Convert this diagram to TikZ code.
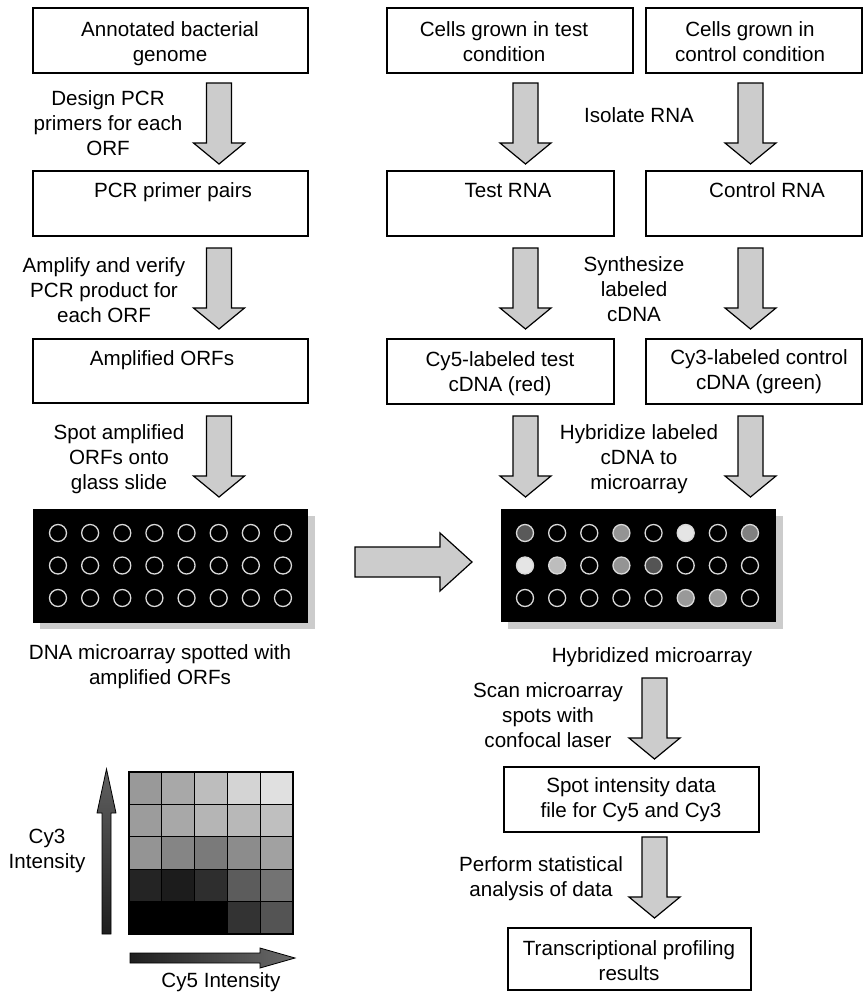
\documentclass[tikz,border=0pt]{standalone}
\usepackage{fontspec}
\setmainfont{Liberation Sans}
\begin{document}
\begin{tikzpicture}[x=1pt,y=-1pt,
  box/.style={draw, line width=1.2pt, inner sep=0pt},
  txt/.style={align=center, anchor=base, inner sep=0pt, font=\fontsize{20.6}{25}\selectfont},
  blk/.style={fill=black!20, draw, line width=1.2pt, line join=miter},
  spot/.style={draw=black!15, line width=1.3pt},
  slide/.style={fill=black, inner sep=0pt},
  shadowbox/.style={fill=black!20},
  cell/.style={draw, line width=1.1pt},
  downblk/.pic={
    \draw[blk] (-12.5,0) -- (12.5,0) -- (12.5,60) -- (25.5,60) -- (0,81)
      -- (-25.5,60) -- (-12.5,60) -- cycle;
  }
]
\useasboundingbox (0,0) rectangle (864,993);

% rectangular step: name, x1, y1, x2, y2
\newcommand\stepframe[5]{%
  \node[box, minimum width={#4-#2}, minimum height={#5-#3}]
    (#1) at ({(#2+#4)/2},{(#3+#5)/2}) {};}

% ---- boxes ----
\stepframe{genome}{33}{8}{308}{73}
\stepframe{primers}{33}{171}{308}{236}
\stepframe{orfs}{33}{339}{308}{403}
\stepframe{testcells}{387}{8}{633}{73}
\stepframe{ctrlcells}{646}{8}{862}{73}
\stepframe{testrna}{387}{171}{614}{236}
\stepframe{ctrlrna}{646}{171}{862}{236}
\stepframe{cyfive}{387}{339}{614}{404}
\stepframe{cythree}{646}{339}{862}{404}
\stepframe{datafile}{504}{767}{759}{832}
\stepframe{results}{508}{928}{751}{990}

% ---- box texts (anchored at the baseline of the last line) ----
\node[txt] (t-genome) at (170,61) {Annotated bacterial\\genome};
\node[txt] (t-primers) at (173,197) {PCR primer pairs};
\node[txt] (t-orfs) at (162,365) {Amplified ORFs};
\node[txt] (t-testcells) at (504,61) {Cells grown in test\\condition};
\node[txt] (t-ctrlcells) at (750,61) {Cells grown in\\control condition};
\node[txt] (t-testrna) at (508,197) {Test RNA};
\node[txt] (t-ctrlrna) at (767,197) {Control RNA};
\node[txt] (t-cyfive) at (500,391) {Cy5-labeled test\\cDNA (red)};
\node[txt] (t-cythree) at (759,389) {Cy3-labeled control\\cDNA (green)};
\node[txt] (t-datafile) at (631,817) {Spot intensity data\\file for Cy5 and Cy3};
\node[txt] (t-results) at (629,980) {Transcriptional profiling\\results};

% ---- step labels ----
\node[txt] (l-design) at (108,155) {Design PCR\\primers for each\\ORF};
\node[txt] (l-amplify) at (104,322) {Amplify and verify\\PCR product for\\each ORF};
\node[txt] (l-spot) at (119,489) {Spot amplified\\ORFs onto\\glass slide};
\node[txt] (l-isolate) at (639,122) {Isolate RNA};
\node[txt] (l-synth) at (634,321) {Synthesize\\labeled\\cDNA};
\node[txt] (l-hybrid) at (639,489) {Hybridize labeled\\cDNA to\\microarray};
\node[txt] (l-scan) at (548,747) {Scan microarray\\spots with\\confocal laser};
\node[txt] (l-stat) at (541,896) {Perform statistical\\analysis of data};

% ---- block arrows ----
\foreach \ytop in {83,248,416}{
  \pic at (219,\ytop) {downblk};
  \pic at (525.5,\ytop) {downblk};
  \pic at (750.5,\ytop) {downblk};
}
\pic at (654.5,678) {downblk};
\pic at (654.5,837) {downblk};
\draw[blk] (355,547) -- (440,547) -- (440,533) -- (472,562) -- (440,591)
  -- (440,577) -- (355,577) -- cycle;

% ---- spotted microarray ----
\fill[shadowbox] (40,516) rectangle (315,629);
\node[slide, minimum width=275, minimum height=114] (arrayL) at (170.5,566) {};
\foreach \c in {0,...,7}{
  \foreach \r in {0,1,2}{
    \draw[spot] ({58+\c*32.14},{533+\r*32.5}) circle (8.5);
  }
}
\node[txt] (l-arrayL) at (160,684) {DNA microarray spotted with\\amplified ORFs};

% ---- hybridized microarray ----
\fill[shadowbox] (508,516) rectangle (783,629);
\node[slide, minimum width=275, minimum height=113] (arrayR) at (638.5,565.5) {};
\foreach \c/\r/\g in {0/0/0.35, 3/0/0.58, 5/0/0.90, 7/0/0.50,
                      0/1/0.90, 1/1/0.74, 3/1/0.58, 4/1/0.33,
                      5/2/0.60, 6/2/0.60}{
  \definecolor{spotfill}{gray}{\g}
  \fill[spotfill] ({525+\c*32.14},{533+\r*32.5}) circle (8.5);
}
\foreach \c in {0,...,7}{
  \foreach \r in {0,1,2}{
    \draw[spot] ({525+\c*32.14},{533+\r*32.5}) circle (8.5);
  }
}
\node[txt] (l-arrayR) at (652,662) {Hybridized microarray};

% ---- intensity grid ----
\foreach \row [count=\r from 0] in {
    {0.60,0.66,0.74,0.83,0.88},
    {0.61,0.66,0.71,0.72,0.75},
    {0.58,0.52,0.48,0.55,0.63},
    {0.14,0.11,0.18,0.36,0.45},
    {0.00,0.00,0.00,0.20,0.33}}{
  \foreach \g [count=\c from 0] in \row {
    \definecolor{cellfill}{gray}{\g}
    \draw[cell, fill=cellfill] ({129+\c*32.8},{772+\r*32.4}) rectangle ++(32.8,32.4);
  }
}
\draw[line width=0.8pt, bottom color=black!88, top color=black!62]
  (102,934) -- (102,813) -- (97,813) -- (106.5,769) -- (116,813) -- (111,813)
  -- (111,934) -- cycle;
\draw[line width=0.8pt, left color=black!88, right color=black!58]
  (130,953) -- (260,953) -- (260,948) -- (295,958) -- (260,968) -- (260,963)
  -- (130,963) -- cycle;
\node[txt] (l-cythree) at (47,868) {Cy3\\Intensity};
\node[txt] (l-cyfive) at (221,987) {Cy5 Intensity};
\end{tikzpicture}
\end{document}
